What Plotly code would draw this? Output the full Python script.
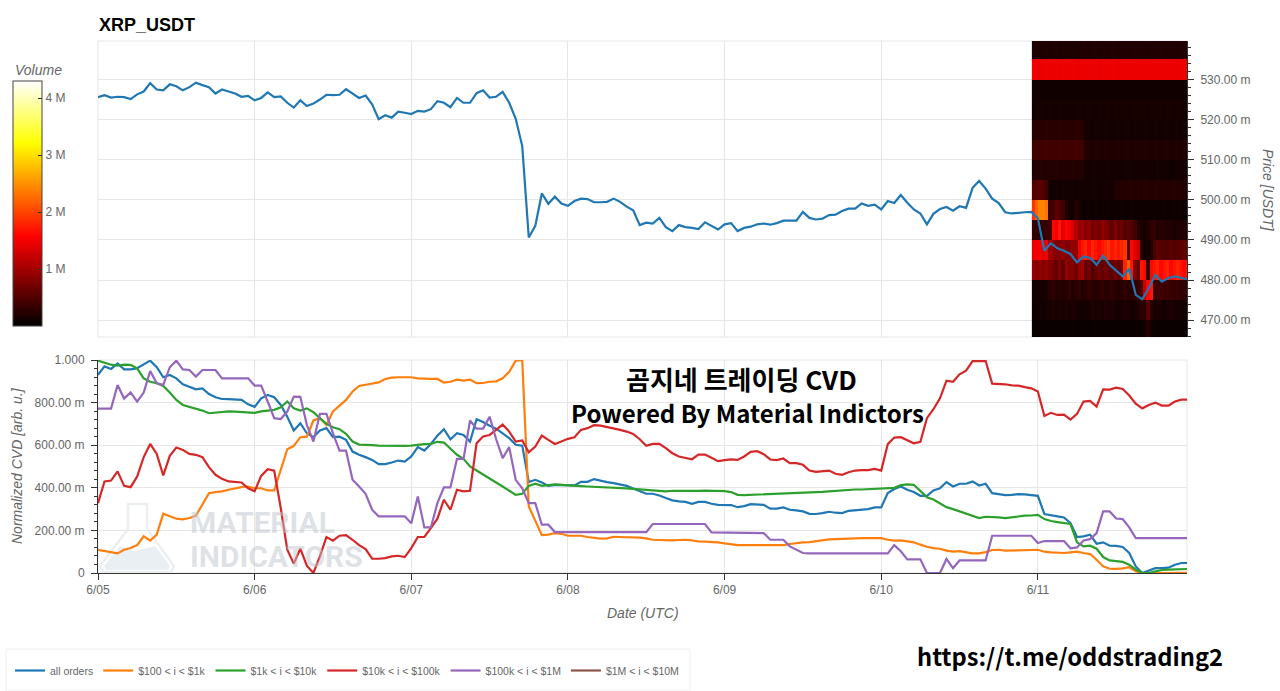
import pandas as pd
import plotly.graph_objects as go

TITLE = "XRP_USDT"
START = "2023-06-05 00:00"
END = "2023-06-11 22:51"
DAY_TICKS = ["2023-06-05", "2023-06-06", "2023-06-07", "2023-06-08", "2023-06-09", "2023-06-10", "2023-06-11"]
DAY_LABELS = ["6/05", "6/06", "6/07", "6/08", "6/09", "6/10", "6/11"]

price = [
525.6,526.1,525.5,525.7,525.6,525.1,526.3,527.0,529.1,527.5,527.3,528.8,528.3,527.3,528.1,529.2,528.6,528.1,526.5,527.5,527.0,526.5,525.7,525.9,
524.8,525.4,526.8,525.6,525.8,524.2,523.0,524.8,523.4,524.0,525.0,526.2,526.1,526.2,527.6,526.5,525.4,526.0,523.8,520.1,521.1,520.5,522.0,521.7,
521.4,522.2,522.0,522.6,524.6,524.2,523.1,525.4,524.2,524.2,526.6,527.3,525.5,525.7,526.9,524.2,520.2,513.4,490.6,493.5,501.6,499.0,500.8,499.1,
498.5,499.7,500.3,500.2,499.4,499.4,499.5,500.3,499.5,498.3,497.4,493.7,494.3,494.1,495.5,493.2,492.2,493.7,493.2,493.0,492.7,494.4,493.5,492.6,
493.9,494.2,492.2,493.0,493.3,493.9,494.1,493.8,494.2,494.8,494.8,494.8,497.0,495.5,495.1,495.3,496.2,496.3,497.2,497.8,497.8,499.1,498.5,498.8,
497.6,499.7,499.2,501.2,499.3,497.6,496.6,493.9,496.5,497.7,498.2,497.3,498.4,498.0,503.0,504.7,502.8,500.3,499.2,496.9,496.6,496.8,496.9,497.0,
495.4,487.3,489.2,487.9,487.3,486.5,484.4,485.9,485.5,483.8,486.1,483.8,482.4,480.9,482.8,476.3,475.2,478.0,481.3,479.6,480.5,480.9,480.5,480.2]

all_orders = [
.93,.97,.958,.984,.956,.956,.961,.981,.997,.966,.919,.93,.914,.886,.875,.862,.867,.84,.825,.817,.816,.814,.8125,.792,
.78,.82,.836,.825,.789,.734,.669,.703,.656,.6375,.669,.68,.6375,.64,.625,.57,.555,.544,.531,.511,.511,.519,.528,.523,
.547,.591,.575,.606,.645,.675,.628,.656,.648,.617,.722,.709,.691,.678,.656,.633,.602,.598,.427,.4375,.425,.409,.414,.414,
.411,.411,.428,.428,.441,.433,.427,.422,.416,.409,.397,.383,.372,.372,.364,.352,.341,.336,.334,.325,.334,.334,.325,.32,
.32,.319,.309,.314,.323,.323,.32,.302,.302,.308,.297,.294,.289,.278,.277,.281,.2875,.283,.281,.292,.295,.298,.3,.308,
.308,.375,.394,.406,.391,.38,.3625,.3625,.3875,.398,.427,.406,.419,.419,.43,.411,.419,.375,.37,.366,.367,.37,.369,.366,
.3625,.277,.27,.266,.261,.234,.169,.172,.18,.1375,.144,.128,.127,.122,.094,.031,0,.0125,.023,.023,.025,.039,.047,.047]

usd_100_1k = [
.109,.103,.097,.092,.109,.117,.131,.172,.152,.18,.278,.266,.255,.252,.258,.269,.32,.375,.38,.383,.391,.398,.403,.406,
.398,.398,.3875,.3875,.484,.581,.597,.6375,.64,.716,.727,.695,.758,.784,.8125,.852,.878,.884,.891,.895,.911,.917,.919,.919,
.919,.914,.911,.911,.911,.894,.898,.908,.903,.908,.891,.892,.898,.9,.914,.945,.997,1.0,.3125,.242,.178,.18,.1875,.184,
.175,.175,.175,.169,.164,.161,.1625,.17,.169,.169,.167,.166,.1625,.156,.155,.153,.153,.155,.156,.153,.148,.147,.147,.144,
.139,.134,.131,.131,.131,.133,.134,.133,.131,.131,.136,.141,.144,.145,.15,.153,.158,.159,.161,.1625,.1625,.164,.164,.164,
.164,.156,.152,.153,.15,.144,.133,.123,.117,.114,.105,.1,.103,.097,.092,.092,.098,.108,.109,.105,.105,.106,.106,.108,
.109,.1,.097,.094,.094,.097,.1,.094,.089,.0625,.031,.02,.019,.022,.027,.008,0,0,0,0,.003,.002,.001,.001]

usd_1k_10k = [
.997,.9875,.978,.973,.978,.977,.961,.914,.898,.891,.878,.847,.8125,.789,.781,.773,.7625,.75,.753,.758,.759,.758,.755,.752,
.752,.759,.764,.766,.778,.805,.773,.7625,.773,.755,.727,.7,.684,.675,.653,.617,.603,.6,.6,.598,.597,.597,.598,.597,
.598,.602,.605,.606,.616,.6125,.586,.555,.536,.5,.481,.461,.442,.425,.406,.3875,.367,.372,.409,.419,.409,.4125,.416,.414,
.411,.409,.408,.406,.405,.403,.402,.4,.398,.397,.395,.392,.39,.387,.384,.383,.386,.3855,.386,.385,.386,.387,.387,.385,
.384,.38,.367,.366,.367,.368,.37,.372,.373,.374,.375,.375,.378,.378,.38,.381,.383,.386,.389,.391,.392,.392,.394,.395,
.397,.4,.4,.4125,.416,.414,.383,.356,.345,.325,.309,.3,.289,.278,.269,.258,.264,.264,.261,.258,.2625,.267,.269,.27,
.273,.253,.244,.239,.236,.23,.144,.125,.128,.114,.075,.059,.056,.052,.039,.016,0,0,.008,.014,.016,.017,.019,.019]

usd_10k_100k = [
.328,.43,.434,.477,.409,.403,.453,.544,.606,.559,.458,.55,.589,.578,.559,.555,.544,.497,.461,.442,.43,.427,.425,.398,
.384,.456,.4875,.48,.305,.109,.044,.114,.034,0,.078,.169,.152,.175,.178,.156,.131,.1125,.067,.067,.07,.078,.081,.075,
.117,.169,.169,.211,.255,.344,.297,.391,.383,.386,.609,.641,.648,.672,.697,.664,.617,.622,.567,.594,.645,.625,.606,.617,
.63,.6375,.672,.68,.694,.692,.686,.68,.672,.664,.653,.628,.597,.606,.606,.586,.5625,.547,.542,.534,.556,.556,.541,.525,
.53,.533,.531,.547,.569,.572,.558,.533,.53,.5375,.516,.516,.508,.481,.475,.477,.481,.466,.461,.473,.481,.483,.483,.489,
.481,.605,.636,.6375,.622,.609,.616,.727,.769,.82,.903,.898,.933,.95,.995,.995,.995,.889,.889,.886,.881,.88,.873,.867,
.852,.7375,.752,.742,.744,.72,.747,.805,.808,.781,.8625,.861,.87,.864,.833,.795,.773,.789,.8,.786,.786,.805,.814,.814]

usd_100k_1m = [
.772,.772,.772,.883,.819,.848,.805,.847,.948,.891,.883,.966,.997,.956,.953,.922,.953,.953,.953,.914,.914,.914,.914,.914,
.88,.88,.805,.727,.723,.758,.828,.827,.695,.617,.747,.747,.656,.575,.575,.4375,.406,.372,.297,.266,.266,.266,.266,.266,
.234,.359,.214,.214,.328,.402,.402,.536,.536,.716,.678,.678,.734,.628,.539,.591,.4375,.398,.328,.328,.227,.227,.192,.192,
.192,.192,.192,.192,.192,.192,.192,.192,.192,.192,.192,.192,.192,.23,.23,.23,.23,.23,.23,.23,.23,.23,.191,.191,
.191,.191,.191,.191,.191,.191,.1875,.156,.156,.156,.125,.11,.094,.092,.092,.092,.092,.092,.092,.092,.092,.092,.092,.092,
.092,.092,.131,.102,.064,.064,.064,0,0,0,.066,.023,.059,.059,.059,.059,.059,.175,.175,.175,.175,.175,.175,.175,
.141,.15,.15,.15,.15,.116,.12,.153,.159,.1875,.289,.289,.256,.253,.214,.164,.164,.164,.164,.164,.164,.164,.164,.164]

usd_1m_10m = [None] * 168

SERIES_NAMES = ["all orders", "$100 < i < $1k", "$1k < i < $10k", "$10k < i < $100k", "$100k < i < $1M", "$1M < i < $10M"]
SERIES_VALUES = [all_orders, usd_100_1k, usd_1k_10k, usd_10k_100k, usd_100k_1m, usd_1m_10m]
SERIES_COLORS = ["#1f77b4", "#ff7f0e", "#2ca02c", "#d62728", "#9467bd", "#8c564b"]

# volume profile (millions), rows from lowest to highest price band
heat_prices = [467.5, 472.5, 477.5, 482.5, 487.5, 492.5, 497.5, 502.5, 507.5, 512.5, 517.5, 522.5, 527.5, 532.5, 537.5]
heat_rows = [
[.06,.05,.06,.05,.06,.07,.06,.07,.08,.06,.07,.06,.08,.07,.06,.07,.06,.07,.06,.08,.06,.07,.06,.07,.06,.05,.06,.07,.06,.05,.06,.05,.07,.08,.1,.25,.1,.08,.07,.06,.07,.06,.07,.06,.07,.06,.07,.06],
[.1,.1,.12,.1,.12,.15,.2,.15,.18,.15,.2,.15,.18,.15,.12,.15,.12,.15,.2,.15,.18,.15,.2,.15,.18,.15,.12,.15,.18,.15,.12,.15,.2,.25,.25,.55,.25,.15,.18,.15,.12,.15,.18,.15,.12,.15,.12,.15],
[.12,.12,.13,.12,.14,.25,.3,.2,.25,.2,.25,.3,.2,.25,.3,.2,.25,.3,.25,.2,.25,.3,.25,.25,.3,.25,.2,.25,.3,.25,.25,.3,.35,.5,1.2,1.6,1.7,.35,.4,.4,.35,.4,.35,.3,.35,.3,.3,.35],
[.9,.8,.9,.8,.9,.8,.7,.6,.8,.6,.9,.8,.8,.7,.9,1.0,.6,.7,.5,.6,.7,.6,.7,.6,.6,.7,.6,.7,1.8,2.2,1.7,.8,.6,1.7,1.6,.3,1.6,1.7,1.8,1.6,1.7,1.8,1.6,1.7,1.8,1.7,1.6,1.7],
[1.4,1.5,1.5,1.4,1.5,1.0,.9,.8,.8,.9,.8,.8,.9,.9,1.5,1.7,1.8,1.6,1.8,1.7,1.6,1.7,1.8,1.9,1.7,1.8,1.7,1.8,1.9,.5,1.6,1.4,1.2,.3,.1,.15,.2,.45,.6,.5,.5,.5,.55,.5,.55,.55,.6,.6],
[.3,.3,.3,.3,.35,.4,1.6,1.5,1.7,1.4,1.6,1.5,1.3,1.1,.9,1.0,.8,.9,.7,.8,.7,.9,.8,.7,.6,.8,.6,.7,.5,.6,.5,.4,.2,.15,.15,.2,.3,.3,.2,.25,.2,.2,.2,.15,.2,.2,.2,.2],
[1.9,2.2,2.4,2.4,2.3,.4,.4,.6,.5,.4,.2,.15,.1,.25,.15,.1,.08,.1,.08,.12,.08,.1,.08,.1,.08,.09,.08,.1,.08,.09,.1,.08,.09,.1,.08,.09,.08,.1,.09,.08,.1,.09,.08,.1,.09,.1,.08,.1],
[.5,.55,.55,.5,.4,.12,.1,.12,.1,.12,.13,.1,.12,.1,.12,.13,.12,.1,.12,.13,.1,.12,.13,.12,.12,.2,.2,.22,.2,.22,.25,.2,.22,.2,.25,.22,.2,.22,.25,.2,.22,.2,.22,.25,.2,.22,.2,.2],
[.2,.2,.22,.2,.2,.22,.2,.22,.2,.2,.22,.2,.22,.2,.2,.2,.12,.13,.12,.15,.12,.13,.12,.14,.12,.13,.12,.1,.12,.14,.12,.13,.12,.14,.12,.13,.12,.1,.14,.12,.13,.12,.1,.12,.13,.12,.14,.12],
[.4,.4,.38,.4,.42,.4,.38,.4,.42,.4,.38,.4,.4,.42,.4,.4,.2,.2,.18,.2,.2,.18,.2,.2,.18,.2,.2,.18,.2,.2,.18,.2,.2,.18,.2,.2,.18,.2,.2,.18,.2,.2,.18,.2,.2,.18,.2,.2],
[.25,.25,.24,.25,.26,.25,.24,.25,.26,.25,.24,.25,.25,.26,.25,.25,.12,.12,.11,.12,.12,.11,.12,.12,.11,.12,.12,.11,.12,.12,.11,.12,.12,.11,.12,.12,.11,.12,.12,.11,.12,.12,.11,.12,.12,.11,.12,.12],
[.13,.13,.14,.13,.13,.14,.13,.13,.14,.13,.13,.14,.13,.13,.14,.13,.13,.14,.13,.13,.14,.13,.13,.14,.13,.15,.13,.14,.15,.13,.14,.15,.13,.14,.15,.13,.14,.13,.15,.14,.13,.15,.14,.13,.15,.14,.13,.14],
[.1,.1,.11,.1,.1,.11,.1,.1,.11,.1,.1,.11,.1,.1,.11,.1,.1,.11,.1,.1,.11,.1,.1,.11,.1,.1,.11,.1,.1,.11,.1,.1,.11,.1,.1,.11,.1,.1,.11,.1,.1,.11,.1,.1,.11,.1,.1,.11],
[1.45,1.45,1.44,1.45,1.45,1.46,1.45,1.45,1.44,1.45,1.45,1.46,1.45,1.45,1.44,1.45,1.45,1.46,1.45,1.45,1.44,1.45,1.45,1.46,1.45,1.45,1.44,1.45,1.45,1.46,1.45,1.45,1.44,1.45,1.45,1.46,1.45,1.45,1.44,1.45,1.45,1.46,1.45,1.45,1.44,1.45,1.45,1.45],
[.18,.18,.17,.18,.18,.17,.18,.18,.17,.18,.18,.17,.18,.18,.17,.2,.2,.19,.2,.2,.19,.2,.2,.19,.2,.2,.19,.2,.2,.19,.2,.2,.19,.2,.2,.19,.2,.2,.19,.2,.2,.19,.2,.2,.19,.2,.2,.19],
]
VOLUME_TICKS = [1, 2, 3, 4]
VOLUME_LABELS = ["1 M", "2 M", "3 M", "4 M"]
PRICE_TICKS = [.47, .48, .49, .50, .51, .52, .53]
PRICE_LABELS = ["470.00 m", "480.00 m", "490.00 m", "500.00 m", "510.00 m", "520.00 m", "530.00 m"]
CVD_TICKS = [0, .2, .4, .6, .8, 1]
CVD_LABELS = ["0", "200.00 m", "400.00 m", "600.00 m", "800.00 m", "1.000"]

W, H = 1280, 691
FONT = "Liberation Sans"
GREY = "#666666"
GRID = "#e6e6e6"
L, R, T, B = 98, 93, 41, 118
PW, PH = W - L - R, H - T - B
hours = pd.date_range(START, periods=168, freq="h")
heat_times = pd.date_range("2023-06-10 23:20", periods=48, freq="30min")
price_frac = [p / 1000 for p in price]
heat_prices_frac = [p / 1000 for p in heat_prices]

def px(x, y):
    return (x - L) / PW, 1 - (y - T) / PH

fig = go.Figure()
cbx, cby = px(13, 81)
fig.add_trace(go.Heatmap(
    x=heat_times, y=heat_prices_frac, z=heat_rows, xaxis="x", yaxis="y", zmin=0, zmax=4.3,
    colorscale=[[0, "#000000"], [.365, "#ff0000"], [.746, "#ffff00"], [1, "#ffffff"]],
    showlegend=False, hoverinfo="skip",
    colorbar=dict(
        x=cbx, xanchor="left", y=cby, yanchor="top",
        thicknessmode="pixels", thickness=29, lenmode="pixels", len=245, xpad=0, ypad=0,
        outlinecolor="#444444", outlinewidth=1, borderwidth=0,
        tickmode="array", tickvals=VOLUME_TICKS, ticktext=VOLUME_LABELS, ticks="inside", ticklen=4,
        tickcolor="#333333", tickfont=dict(family=FONT, size=12, color=GREY),
    ),
))
fig.add_trace(go.Scatter(x=hours, y=price_frac, mode="lines", xaxis="x", yaxis="y", showlegend=False,
                         line=dict(color="#1f77b4", width=2.2)))
for name, values, color in zip(SERIES_NAMES, SERIES_VALUES, SERIES_COLORS):
    fig.add_trace(go.Scatter(
        x=hours, y=values, name=name, mode="lines", xaxis="x2", yaxis="y2",
        line=dict(color=color, width=2.2),
    ))

frame = dict(type="rect", line=dict(color=GRID, width=1), fillcolor="rgba(0,0,0,0)", layer="below")
lx0, ly1 = px(6, 649)
lx1, ly0 = px(690, 691)
shapes = [
    dict(frame, xref="x domain", yref="y domain", x0=0, x1=1, y0=0, y1=1),
    dict(frame, xref="x2 domain", yref="y2 domain", x0=0, x1=1, y0=0, y1=1),
    dict(type="rect", xref="paper", yref="paper", x0=lx0, x1=lx1, y0=ly0, y1=ly1,
         line=dict(color="#eeeeee", width=1), fillcolor="white", layer="below"),
]

def path(points):
    parts = []
    for i, (x, y) in enumerate(points):
        fx, fy = px(x, y)
        parts.append(("M" if i == 0 else "L") + f"{fx:.5f},{fy:.5f}")
    return " ".join(parts) + " Z"

# faint flask logo behind the lower panel
FLASK_OUTLINE = [(128, 504), (147, 504), (147, 529), (174, 566), (171, 572), (103, 572), (100, 566), (128, 529)]
FLASK_LIQUID = [(120, 546), (132, 551), (143, 549), (155, 546), (170, 566), (168, 570), (106, 570), (104, 566)]
shapes.append(dict(type="path", xref="paper", yref="paper", path=path(FLASK_LIQUID), layer="below",
                   fillcolor="#e9eff2", line=dict(width=0)))
shapes.append(dict(type="path", xref="paper", yref="paper", path=path(FLASK_OUTLINE), layer="below",
                   fillcolor="rgba(0,0,0,0)", line=dict(color="#eceff1", width=2.5)))

def note(text, x, y, size, family, color="#000000", anchor="center", angle=0):
    fx, fy = px(x, y)
    return dict(text=text, xref="paper", yref="paper", x=fx, y=fy, xanchor=anchor, yanchor="middle", textangle=angle,
                showarrow=False, font=dict(family=family, size=size, color=color))

KO = "Noto Sans CJK KR"
WM = "rgba(190,198,205,0.5)"
annotations = [
    note("<b>곰지네 트레이딩 CVD</b>", 741, 378, 26, KO),
    note("<b>Powered By Material Indictors</b>", 747, 412, 24, KO),
    note("<b>https://t.me/oddstrading2</b>", 1070, 656, 23.7, KO),
    note("<b>MATERIAL</b>", 188, 522, 30, "Roboto", WM, "left"),
    note("<b>INDICATORS</b>", 188, 556, 30, "Roboto", WM, "left"),
    note("<b>" + TITLE + "</b>", 97, 25, 18, FONT, "#000000", "left"),
    note("<i>Volume</i>", 13, 70, 14, FONT, GREY, "left"),
    note("<i>Date (UTC)</i>", 643, 613, 14, FONT, GREY),
    note("<i>Normalized CVD [arb. u.]</i>", 17, 466, 14, FONT, GREY, angle=-90),
    note("<i>Price [USDT]</i>", 1268, 190, 14, FONT, GREY, angle=90),
]

legx, legy = 10 / W, 1 - 656 / H
fig.update_layout(
    width=W, height=H, autosize=False, paper_bgcolor="white", plot_bgcolor="white",
    margin=dict(l=L, r=R, t=T, b=B, autoexpand=False),
    font=dict(family=FONT, size=12, color=GREY),
    shapes=shapes, annotations=annotations, hovermode=False,
    xaxis=dict(domain=[0, 1], anchor="y", type="date", range=[START, END], showticklabels=False, ticks="",
               tickmode="array", tickvals=DAY_TICKS, showgrid=True, gridcolor=GRID, zeroline=False),
    yaxis=dict(domain=[(573 - 337) / 532, 1], anchor="x", side="right", range=[.4658, .5396],
               tickmode="array", tickvals=PRICE_TICKS, ticktext=PRICE_LABELS, ticks="outside", ticklen=6,
               tickcolor="#333333", showline=True, linecolor="#333333", linewidth=1, showgrid=True, gridcolor=GRID,
               zeroline=False, tickfont=dict(family=FONT, size=12, color=GREY), ticklabelstandoff=4,
               minor=dict(dtick=.002, tick0=.46, ticks="outside", ticklen=3, tickcolor="#333333", showgrid=False)),
    xaxis2=dict(domain=[0, 1], anchor="y2", type="date", range=[START, END], tickmode="array", tickvals=DAY_TICKS,
                ticktext=DAY_LABELS, ticks="outside", ticklen=6, tickcolor="#333333", showline=True,
                linecolor="#333333", linewidth=1, showgrid=True, gridcolor=GRID, zeroline=False,
                tickfont=dict(family=FONT, size=12, color=GREY)),
    yaxis2=dict(domain=[0, (573 - 360) / 532], anchor="x2", range=[0, 1], tickmode="array", tickvals=CVD_TICKS,
                ticktext=CVD_LABELS, ticks="outside", ticklen=6, tickcolor="#333333", showline=True,
                linecolor="#333333", linewidth=1, showgrid=True, gridcolor=GRID, zeroline=False,
                tickfont=dict(family=FONT, size=12, color=GREY), ticklabelstandoff=4,
                minor=dict(dtick=.04, tick0=0, ticks="outside", ticklen=3, tickcolor="#333333", showgrid=False)),
    legend=dict(orientation="h", xref="container", yref="container", x=legx, xanchor="left", y=legy, yanchor="top",
                bgcolor="rgba(0,0,0,0)", borderwidth=0, itemwidth=30, tracegroupgap=0,
                font=dict(family=FONT, size=10.5, color=GREY)),
)

fig.write_html("out.html", config={"displayModeBar": False}, post_script="document.body.style.margin='0';")
